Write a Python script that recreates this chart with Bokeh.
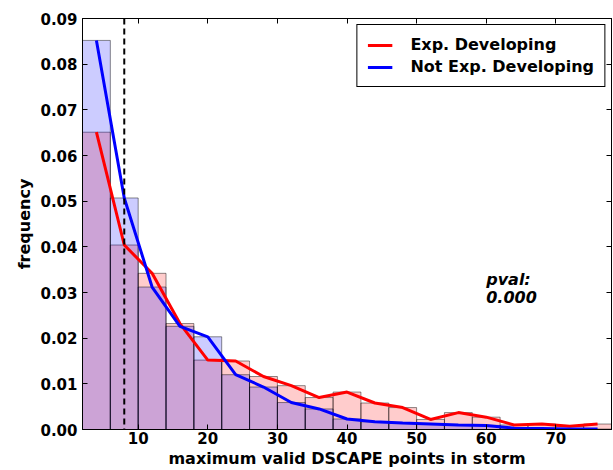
from bokeh.plotting import figure
from bokeh.models import (Range1d, LinearAxis, FixedTicker, NumeralTickFormatter,
                          Span, Legend, LegendItem, ColumnDataSource)
from bokeh.core.properties import value
from bokeh.embed import file_html
from bokeh.resources import INLINE

# ---- data ----
bin_centers = [4, 8, 12, 16, 20, 24, 28, 32, 36, 40, 44, 48, 52, 56, 60, 64, 68, 72, 76]
bin_width = 4
exp_developing = [0.0651, 0.0404, 0.0342, 0.0232, 0.0152, 0.0150, 0.0116, 0.0096, 0.0070,
                  0.0082, 0.0058, 0.0048, 0.0022, 0.0037, 0.0027, 0.0010, 0.0012, 0.0007, 0.0012]
not_exp_developing = [0.0852, 0.0507, 0.0312, 0.0226, 0.0203, 0.0120, 0.0093, 0.0059, 0.0045,
                      0.0023, 0.0017, 0.0014, 0.0012, 0.0010, 0.0009, 0.0003, 0.0002, 0.0001, 0.0001]
threshold = 8
x_ticks = [10, 20, 30, 40, 50, 60, 70]
y_ticks = [0.00, 0.01, 0.02, 0.03, 0.04, 0.05, 0.06, 0.07, 0.08, 0.09]
pval_text = ["pval:", "0.000"]

FONT = "DejaVu Sans"

lefts = [c - bin_width / 2 for c in bin_centers]
rights = [c + bin_width / 2 for c in bin_centers]
src = ColumnDataSource(dict(x=bin_centers, left=lefts, right=rights,
                            red=exp_developing, blue=not_exp_developing))

p = figure(width=613, height=470, output_backend="svg", toolbar_location=None,
           x_range=Range1d(2, 78), y_range=Range1d(0, 0.09),
           x_axis_location=None, y_axis_location=None,
           min_border_left=82, min_border_right=2, min_border_top=18, min_border_bottom=40)

p.quad(left="left", right="right", top="red", bottom=0, source=src,
       fill_color="#ff0000", fill_alpha=0.2, line_color="black", line_alpha=0.45, line_width=1)
p.quad(left="left", right="right", top="blue", bottom=0, source=src,
       fill_color="#0000ff", fill_alpha=0.2, line_color="black", line_alpha=0.45, line_width=1)

r_red = p.line("x", "red", source=src, line_color="#ff0000", line_width=3)
r_blue = p.line("x", "blue", source=src, line_color="#0000ff", line_width=3)

p.add_layout(Span(location=threshold, dimension="height", line_color="black",
                  line_width=2, line_dash="6 4"))

p.text(x=[60, 60], y=[0.0328, 0.0290], text=pval_text, text_font=value(FONT),
       text_font_style="bold italic", text_font_size="16px", text_baseline="middle",
       text_align="left", text_color="black")

# axes
bottom_axis = LinearAxis(ticker=FixedTicker(ticks=x_ticks),
                         axis_label="maximum valid DSCAPE points in storm")
left_axis = LinearAxis(ticker=FixedTicker(ticks=y_ticks),
                       formatter=NumeralTickFormatter(format="0.00"),
                       axis_label="frequency")
top_axis = LinearAxis(ticker=FixedTicker(ticks=x_ticks))
right_axis = LinearAxis(ticker=FixedTicker(ticks=y_ticks))
p.add_layout(bottom_axis, "below")
p.add_layout(left_axis, "left")
p.add_layout(top_axis, "above")
p.add_layout(right_axis, "right")

for ax in [bottom_axis, left_axis, top_axis, right_axis]:
    ax.axis_line_color = "black"
    ax.axis_line_width = 1
    ax.major_tick_in = 5
    ax.major_tick_out = 0
    ax.major_tick_line_color = "black"
    ax.minor_tick_line_color = None
    ax.major_label_text_font = FONT
    ax.major_label_text_font_style = "bold"
    ax.major_label_text_font_size = "15px"
    ax.major_label_text_color = "black"
    ax.axis_label_text_font = FONT
    ax.axis_label_text_font_style = "bold"
    ax.axis_label_text_font_size = "16px"
    ax.axis_label_text_color = "black"

for ax in [top_axis, right_axis]:
    ax.major_label_text_color = None
    ax.major_label_text_font_size = "1px"
    ax.major_label_standoff = 0

bottom_axis.major_label_standoff = 2
bottom_axis.axis_label_standoff = 2
left_axis.major_label_standoff = 5
left_axis.axis_label_standoff = 3

p.xgrid.visible = False
p.ygrid.visible = False
p.outline_line_color = "black"
p.outline_line_alpha = 1
p.background_fill_color = "white"
p.border_fill_color = "white"

legend = Legend(items=[LegendItem(label="Exp. Developing", renderers=[r_red]),
                       LegendItem(label="Not Exp. Developing", renderers=[r_blue])],
                location="top_right")
legend.label_text_font = FONT
legend.label_text_font_style = "bold"
legend.label_text_font_size = "16px"
legend.label_text_color = "black"
legend.border_line_color = "black"
legend.border_line_width = 1
legend.border_line_alpha = 1
legend.background_fill_alpha = 1
legend.margin = 6
legend.padding = 10
legend.spacing = 3
legend.glyph_width = 25
legend.glyph_height = 18
legend.label_height = 18
legend.label_standoff = 18
p.add_layout(legend)

open("out.html", "w").write(file_html(p, INLINE))
